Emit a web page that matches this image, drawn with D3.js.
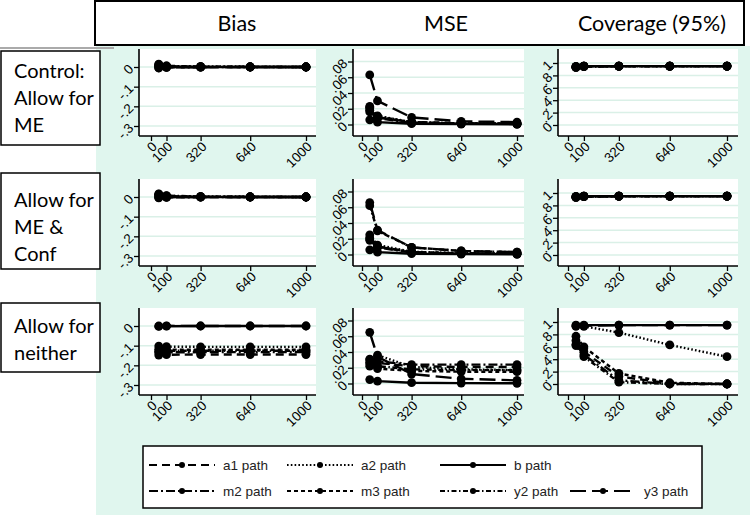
<!DOCTYPE html>
<html>
<head>
<meta charset="utf-8">
<style>
  body { margin: 0; background: #fff; }
  svg { display: block; }
</style>
</head>
<body>
<svg width="750" height="515"></svg>
<script src="https://cdn.jsdelivr.net/npm/d3@7"></script>
<script>
// ---- data ----
var sampleSizes = [50, 100, 320, 640, 1000];
var pathNames = ["a1 path", "a2 path", "b path", "m2 path", "m3 path", "y2 path", "y3 path"];
var measureTitles = ["Bias", "MSE", "Coverage (95%)"];
var modelLabels = [["Control:", "Allow for", "ME"], ["Allow for", "ME &", "Conf"], ["Allow for", "neither"]];
var xTicks = [0, 100, 320, 640, 1000];
var biasTicks = [0, -.1, -.2, -.3];
var mseTicks = [0, .02, .04, .06, .08];
var covTicks = [0, .2, .4, .6, .8, 1];

// each array: one row per path, in pathNames order, one value per sample size
var biasControl = [
  [0.008, 0.003, 0.001, 0.000, 0.000],
  [0.012, 0.005, 0.002, 0.001, 0.000],
  [0.001, 0.000, 0.000, 0.000, 0.000],
  [-0.005, -0.002, -0.001, 0.000, 0.000],
  [0.006, 0.002, 0.001, 0.000, 0.000],
  [0.015, 0.006, 0.002, 0.001, 0.000],
  [-0.004, -0.002, -0.001, 0.000, 0.000]
];
var mseControl = [
  [0.018, 0.009, 0.003, 0.0015, 0.001],
  [0.022, 0.011, 0.003, 0.0015, 0.001],
  [0.006, 0.003, 0.001, 0.0005, 0.0003],
  [0.016, 0.008, 0.002, 0.001, 0.0007],
  [0.020, 0.009, 0.0025, 0.0012, 0.0008],
  [0.023, 0.010, 0.003, 0.0015, 0.001],
  [0.063, 0.030, 0.009, 0.004, 0.003]
];
var covControl = [
  [0.94, 0.95, 0.95, 0.95, 0.95],
  [0.94, 0.95, 0.95, 0.95, 0.95],
  [0.93, 0.95, 0.95, 0.95, 0.95],
  [0.94, 0.95, 0.95, 0.95, 0.95],
  [0.94, 0.95, 0.95, 0.95, 0.95],
  [0.93, 0.94, 0.95, 0.95, 0.95],
  [0.93, 0.94, 0.95, 0.95, 0.95]
];
var biasBoth = [
  [0.010, 0.004, 0.001, 0.000, 0.000],
  [0.014, 0.006, 0.002, 0.001, 0.000],
  [0.000, 0.000, 0.000, 0.000, 0.000],
  [-0.004, -0.002, -0.001, 0.000, 0.000],
  [0.007, 0.003, 0.001, 0.000, 0.000],
  [0.016, 0.007, 0.002, 0.001, 0.000],
  [-0.003, -0.001, 0.000, 0.000, 0.000]
];
var mseBoth = [
  [0.020, 0.010, 0.003, 0.0015, 0.001],
  [0.025, 0.012, 0.0035, 0.0017, 0.001],
  [0.006, 0.003, 0.001, 0.0005, 0.0003],
  [0.018, 0.009, 0.0025, 0.0012, 0.0008],
  [0.021, 0.010, 0.003, 0.0014, 0.0009],
  [0.062, 0.030, 0.009, 0.0045, 0.003],
  [0.066, 0.031, 0.009, 0.0045, 0.003]
];
var covBoth = [
  [0.94, 0.95, 0.95, 0.95, 0.95],
  [0.94, 0.95, 0.95, 0.95, 0.95],
  [0.93, 0.95, 0.95, 0.95, 0.95],
  [0.94, 0.95, 0.95, 0.95, 0.95],
  [0.94, 0.94, 0.95, 0.95, 0.95],
  [0.93, 0.94, 0.95, 0.95, 0.95],
  [0.93, 0.94, 0.95, 0.95, 0.95]
];
var biasNeither = [
  [-0.148, -0.146, -0.145, -0.145, -0.145],
  [-0.102, -0.105, -0.106, -0.106, -0.106],
  [-0.002, -0.001, 0.000, 0.000, 0.000],
  [-0.135, -0.134, -0.133, -0.133, -0.133],
  [-0.118, -0.120, -0.121, -0.121, -0.121],
  [-0.128, -0.126, -0.126, -0.126, -0.126],
  [0.000, 0.001, 0.000, 0.000, 0.000]
];
var mseNeither = [
  [0.031, 0.026, 0.022, 0.021, 0.021],
  [0.027, 0.036, 0.021, 0.018, 0.017],
  [0.005, 0.003, 0.001, 0.0005, 0.0003],
  [0.030, 0.028, 0.024, 0.024, 0.024],
  [0.022, 0.019, 0.016, 0.015, 0.015],
  [0.025, 0.022, 0.018, 0.017, 0.017],
  [0.065, 0.034, 0.012, 0.006, 0.004]
];
var covNeither = [
  [0.70, 0.52, 0.12, 0.01, 0.00],
  [0.94, 0.93, 0.83, 0.63, 0.44],
  [0.95, 0.95, 0.95, 0.95, 0.95],
  [0.64, 0.47, 0.06, 0.00, 0.00],
  [0.77, 0.60, 0.17, 0.02, 0.00],
  [0.62, 0.44, 0.03, 0.00, 0.00],
  [0.93, 0.94, 0.95, 0.95, 0.95]
];

var panelData = [
  [biasControl, mseControl, covControl],
  [biasBoth, mseBoth, covBoth],
  [biasNeither, mseNeither, covNeither]
];

// ---- styles / layout ----
var dashes = ["8,5", "1.6,2.2", null, "9,3,2,3", "4,3", "5,2.5,1.5,2.5", "16,6"];
var measureTicks = [biasTicks, mseTicks, covTicks];
// y pixel offsets (from plot top) of the lowest / highest tick
var yMap = [
  { d: [0, -.3], r: [18, 77] },
  { d: [0, .08], r: [75.5, 12.5] },
  { d: [0, 1], r: [76, 14] }
];
var cols = [
  { axisX: 139, x0: 151, x1: 306, right: 316 },
  { axisX: 353, x0: 362, x1: 517, right: 524 },
  { axisX: 558, x0: 568, x1: 727, right: 738 }
];
var rowTops = [49, 179, 308], plotH = 87;
var bg = "#e0f6ee", gridCol = "#daf0e7";
var tickFont = "'Liberation Sans', Arial, sans-serif";
var labelFont = "Lato, 'Open Sans', sans-serif";

var svg = d3.select("svg");

svg.append("rect").attr("width", 750).attr("height", 515).attr("fill", "#fff");
svg.append("rect").attr("x", 96).attr("y", 46).attr("width", 654).attr("height", 469).attr("fill", bg);
svg.append("line").attr("x1", 0).attr("x2", 114).attr("y1", 48).attr("y2", 48)
  .attr("stroke", "#aaa").attr("stroke-width", 2);

// header
svg.append("rect").attr("x", 95).attr("y", 1).attr("width", 649).attr("height", 44)
  .attr("fill", "#fff").attr("stroke", "#000").attr("stroke-width", 2);
var headerX = [237, 446, 652];
svg.selectAll(".htitle").data(measureTitles).enter().append("text")
  .attr("x", function(d, i) { return headerX[i]; })
  .attr("y", 31)
  .attr("text-anchor", "middle")
  .style("font-family", labelFont).style("font-size", "21.5px")
  .text(function(d) { return d; });

// row labels
var boxY = [[51, 145], [173, 269], [303, 372]];
var lineY = [[78, 105, 132], [207, 234, 261], [333, 360]];
modelLabels.forEach(function(lines, r) {
  svg.append("rect").attr("x", 1).attr("y", boxY[r][0]).attr("width", 99)
    .attr("height", boxY[r][1] - boxY[r][0])
    .attr("fill", "#fff").attr("stroke", "#000").attr("stroke-width", 1.5);
  lines.forEach(function(t, k) {
    svg.append("text").attr("x", 14).attr("y", lineY[r][k])
      .style("font-family", labelFont).style("font-size", "20px").text(t);
  });
});

function fmt(v) {
  if (v === 0) return "0";
  return String(+v.toFixed(2)).replace("0.", ".");
}

function drawPanel(r, c) {
  var col = cols[c], top = rowTops[r], bottom = top + plotH;
  var g = svg.append("g");
  var x = d3.scaleLinear().domain([0, 1000]).range([col.x0, col.x1]);
  var y = d3.scaleLinear().domain(yMap[c].d).range([top + yMap[c].r[0], top + yMap[c].r[1]]);
  var ticks = measureTicks[c];

  g.append("rect").attr("x", col.axisX).attr("y", top)
    .attr("width", col.right - col.axisX).attr("height", plotH).attr("fill", "#fff");

  g.selectAll(".grid").data(ticks).enter().append("line")
    .attr("x1", col.axisX).attr("x2", col.right)
    .attr("y1", function(d) { return y(d); }).attr("y2", function(d) { return y(d); })
    .attr("stroke", gridCol).attr("stroke-width", 1.5);

  var ya = g.append("g").attr("transform", "translate(" + col.axisX + ",0)")
    .call(d3.axisLeft(y).tickValues(ticks).tickFormat(fmt).tickSize(5).tickSizeOuter(0));
  var xa = g.append("g").attr("transform", "translate(0," + bottom + ")")
    .call(d3.axisBottom(x).tickValues(xTicks).tickFormat(d3.format("d")).tickSize(5).tickSizeOuter(0));
  [ya, xa].forEach(function(a) {
    a.select(".domain").remove();
    a.selectAll("line").attr("stroke", "#000").attr("stroke-width", 1.3);
    a.selectAll("text").attr("x", 0).attr("y", 0).attr("dy", "0.35em")
      .style("text-anchor", "end").style("font-family", tickFont).style("font-size", "13.5px")
      .attr("fill", "#000");
  });
  ya.selectAll("text").attr("transform", "translate(-8,-1) rotate(-45)");
  xa.selectAll("text").attr("transform", "translate(3,8) rotate(-45)");

  g.append("line").attr("x1", col.axisX).attr("x2", col.axisX).attr("y1", top).attr("y2", bottom)
    .attr("stroke", "#000").attr("stroke-width", 1.6);
  g.append("line").attr("x1", col.axisX).attr("x2", col.right).attr("y1", bottom).attr("y2", bottom)
    .attr("stroke", "#000").attr("stroke-width", 1.6);

  var line = d3.line()
    .x(function(d, i) { return x(sampleSizes[i]); })
    .y(function(d) { return y(d); });

  panelData[r][c].forEach(function(series, k) {
    g.append("path").attr("d", line(series))
      .attr("fill", "none").attr("stroke", "#000").attr("stroke-width", 2.4)
      .attr("stroke-dasharray", dashes[k]);
    g.selectAll(".m" + k).data(series).enter().append("circle")
      .attr("cx", function(d, i) { return x(sampleSizes[i]); })
      .attr("cy", function(d) { return y(d); })
      .attr("r", 4.4).attr("fill", "#000");
  });
}

for (var r = 0; r < 3; r++) for (var c = 0; c < 3; c++) drawPanel(r, c);

// legend
svg.append("rect").attr("x", 143).attr("y", 446).attr("width", 559).attr("height", 62)
  .attr("fill", "#fff").attr("stroke", "#000").attr("stroke-width", 1.5);
var legPos = [[0, 0], [0, 1], [0, 2], [1, 0], [1, 1], [1, 2], [1, 3]];
var legColX = [149, 287, 440, 570], legRowY = [465, 491], legLen = 66;
pathNames.forEach(function(name, k) {
  var lx = legColX[legPos[k][1]], ly = legRowY[legPos[k][0]];
  svg.append("line").attr("x1", lx).attr("x2", lx + legLen).attr("y1", ly).attr("y2", ly)
    .attr("stroke", "#000").attr("stroke-width", 2).attr("stroke-dasharray", dashes[k]);
  svg.append("circle").attr("cx", lx + legLen / 2).attr("cy", ly).attr("r", 3).attr("fill", "#000");
  svg.append("text").attr("x", lx + legLen + 8).attr("y", ly).attr("dy", "0.35em")
    .style("font-family", tickFont).style("font-size", "13.5px").attr("fill", "#222").text(name);
});
</script>
</body>
</html>
